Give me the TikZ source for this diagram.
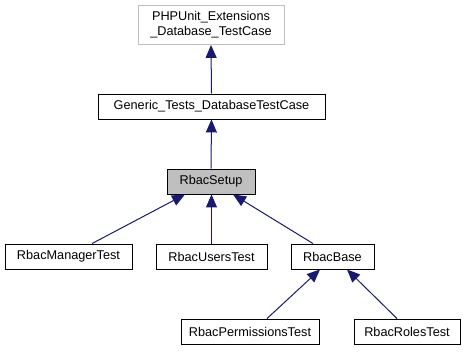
\documentclass[tikz,border=0pt]{standalone}
\usepackage{fontspec}
\setmainfont{Liberation Sans}
\usetikzlibrary{arrows.meta}
\definecolor{edgeblue}{HTML}{191970}
\definecolor{boxgray}{HTML}{BFBFBF}
\begin{document}
\begin{tikzpicture}[x=1pt,y=-1pt,
  cls/.style={draw=black,line width=0.9pt,fill=white,inner sep=0pt,
    font=\fontsize{12.7}{15}\selectfont,align=center},
  ext/.style={cls,draw=boxgray},
  cur/.style={cls,fill=boxgray},
  inh/.style={draw=edgeblue,line width=1pt,
    -{Triangle[length=13pt,width=11pt]}}]
\useasboundingbox (0,0) rectangle (471,351);
% classes
\node[ext,minimum width=146pt,minimum height=39pt] (ext) at (211,25)
  {PHPUnit\_Extensions\\\_Database\_TestCase};
\node[cls,minimum width=227pt,minimum height=25pt] (gen) at (211.5,106.5)
  {Generic\_Tests\_DatabaseTestCase};
\node[cur,minimum width=88pt,minimum height=25pt] (setup) at (211,181.5)
  {RbacSetup};
\node[cls,minimum width=127pt,minimum height=25pt] (mgr) at (68.5,256.5)
  {RbacManagerTest};
\node[cls,minimum width=111pt,minimum height=25pt] (users) at (211.5,256.5)
  {RbacUsersTest};
\node[cls,minimum width=83pt,minimum height=25pt] (base) at (332.5,256.5)
  {RbacBase};
\node[cls,minimum width=138pt,minimum height=25pt] (perm) at (250,331.5)
  {RbacPermissionsTest};
\node[cls,minimum width=106pt,minimum height=25pt] (roles) at (407,331.5)
  {RbacRolesTest};
% inheritance edges
\draw[inh] (gen.north) -- (ext.south);
\draw[inh] (setup.north) -- (gen.south);
\draw[inh] ([xshift=23.5pt]mgr.north) -- ([xshift=-26pt]setup.south);
\draw[inh] (users.north) -- (users.north |- setup.south);
\draw[inh] ([xshift=-19.5pt]base.north) -- ([xshift=22pt]setup.south);
\draw[inh] ([xshift=17pt]perm.north) -- ([xshift=-12.5pt]base.south);
\draw[inh] ([xshift=-10pt]roles.north) -- ([xshift=14.5pt]base.south);
\end{tikzpicture}
\end{document}
